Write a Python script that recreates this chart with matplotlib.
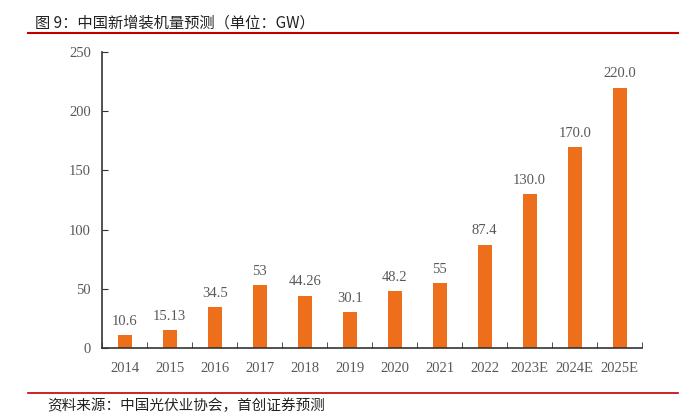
import matplotlib.pyplot as plt
from matplotlib.lines import Line2D

years = ["2014", "2015", "2016", "2017", "2018", "2019", "2020", "2021",
         "2022", "2023E", "2024E", "2025E"]
values = [10.6, 15.13, 34.5, 53, 44.26, 30.1, 48.2, 55, 87.4, 130.0, 170.0, 220.0]
labels = ["10.6", "15.13", "34.5", "53", "44.26", "30.1", "48.2", "55",
          "87.4", "130.0", "170.0", "220.0"]
yticks = [0, 50, 100, 150, 200, 250]

bar_color = "#EE6F1B"
text_color = "#595959"
red = "#C00000"
num_font = "Liberation Serif"
cjk = ["Noto Sans CJK SC", "DejaVu Sans"]

fig = plt.figure(figsize=(6.95, 4.18), dpi=100, facecolor="white")
ax = fig.add_axes([0.147, 0.1675, 0.777, 0.708])

x = list(range(len(years)))
ax.bar(x, values, width=0.31, color=bar_color, zorder=2)
for xi, v, s in zip(x, values, labels):
    ax.text(xi, v + 6, s, ha="center", va="bottom", fontsize=10.5,
            family=num_font, color=text_color)

ax.set_xlim(-0.5, len(years) - 0.5)
ax.set_ylim(0, 250)
ax.set_yticks(yticks)
ax.set_yticklabels([str(t) for t in yticks], family=num_font, fontsize=10.5,
                   color=text_color)
ax.set_xticks(x)
ax.set_xticklabels(years, family=num_font, fontsize=10.5, color=text_color)
ax.tick_params(axis="x", length=0, pad=10)
ax.set_xticks([i + 0.5 for i in range(-1, len(years))], minor=True)
ax.tick_params(axis="x", which="minor", direction="in", length=4, color="#333333")
ax.tick_params(axis="y", direction="in", length=4, color="#333333", pad=8)

for side in ["top", "right"]:
    ax.spines[side].set_visible(False)
for side in ["left", "bottom"]:
    ax.spines[side].set_color("#333333")
    ax.spines[side].set_linewidth(1.2)

# header and footer
fig.text(0.05, 0.945, "图 9：中国新增装机量预测（单位：GW）", family=cjk,
         fontsize=11, color="#222222", va="center")
fig.add_artist(Line2D([0.04, 0.975], [0.921, 0.921], color=red, lw=1.5,
                      transform=fig.transFigure))
fig.add_artist(Line2D([0.04, 0.975], [0.06, 0.06], color=red, lw=1.2,
                      transform=fig.transFigure))
fig.text(0.068, 0.03, "资料来源：中国光伏业协会，首创证券预测", family=cjk,
         fontsize=10.5, color="#222222", va="center", style="italic")

fig.savefig("out.png", dpi=100, facecolor="white")
